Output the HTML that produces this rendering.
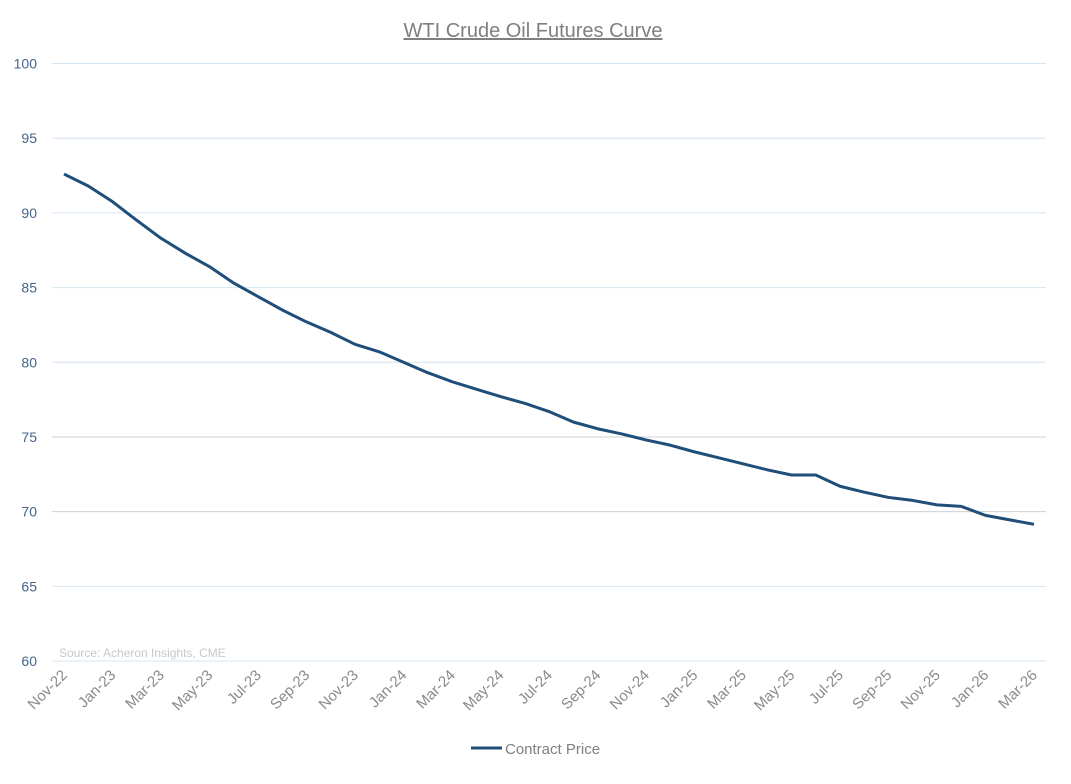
<!DOCTYPE html>
<html><head><meta charset="utf-8"><style>
body{margin:0;background:#fff;font-family:"Liberation Sans",sans-serif}
svg text{font-family:"Liberation Sans",sans-serif}
</style></head><body>
<svg id="chart" width="1071" height="779" viewBox="0 0 1071 779">
<text x="533" y="37" text-anchor="middle" font-size="20" fill="#7f7f7f" text-decoration="underline">WTI Crude Oil Futures Curve</text>
<g id="grid"></g><g id="yl"></g><g id="xl"></g>
<text x="59" y="657" font-size="12" fill="#c8c8c8">Source: Acheron Insights, CME</text>
<g>
<line x1="471" y1="748" x2="502" y2="748" stroke="#1f4e79" stroke-width="3"/>
<text x="505" y="754" font-size="15" fill="#7f7f7f">Contract Price</text>
</g>
</svg>
<script>
const months=["Nov-22","Dec-22","Jan-23","Feb-23","Mar-23","Apr-23","May-23","Jun-23","Jul-23","Aug-23","Sep-23","Oct-23","Nov-23","Dec-23","Jan-24","Feb-24","Mar-24","Apr-24","May-24","Jun-24","Jul-24","Aug-24","Sep-24","Oct-24","Nov-24","Dec-24","Jan-25","Feb-25","Mar-25","Apr-25","May-25","Jun-25","Jul-25","Aug-25","Sep-25","Oct-25","Nov-25","Dec-25","Jan-26","Feb-26","Mar-26"];
const prices=[92.6,91.8,90.75,89.5,88.3,87.3,86.4,85.3,84.4,83.5,82.7,82.0,81.2,80.7,80.0,79.3,78.7,78.2,77.7,77.25,76.7,76.0,75.55,75.2,74.8,74.45,74.0,73.6,73.2,72.8,72.45,72.45,71.7,71.3,70.95,70.75,70.45,70.35,69.75,69.45,69.15];
const yTicks=[60,65,70,75,80,85,90,95,100];
const NS="http://www.w3.org/2000/svg";
const x=i=>64+i*(1034-64)/(months.length-1);
const y=v=>661-(v-60)*(661-63.5)/40;
const svg=document.getElementById('chart');
const grid=document.getElementById('grid'),yl=document.getElementById('yl'),xl=document.getElementById('xl');
yTicks.forEach(t=>{
 const l=document.createElementNS(NS,'line');
 
 
 l.setAttribute('x1',52);l.setAttribute('x2',1046);l.setAttribute('y1',y(t));l.setAttribute('y2',y(t));
 l.setAttribute('stroke',t===70||t===75?'#d0d0d0':'#d5e4f1');l.setAttribute('stroke-width',1);
 grid.appendChild(l);
 const tx=document.createElementNS(NS,'text');
 
 
 tx.setAttribute('x',37);tx.setAttribute('y',y(t)+5);tx.setAttribute('text-anchor','end');
 tx.setAttribute('font-size','14');tx.setAttribute('fill','#44648a');tx.textContent=t;
 yl.appendChild(tx);
});
months.forEach((m,i)=>{
 if(i%2) return;
 const tx=document.createElementNS(NS,'text');
 
 
 const px=x(i)+4,py=676;
 tx.setAttribute('x',px);tx.setAttribute('y',py);tx.setAttribute('text-anchor','end');
 tx.setAttribute('transform',`rotate(-45 ${px} ${py})`);
 tx.setAttribute('font-size','15');tx.setAttribute('fill','#8a8a8a');tx.textContent=m;
 xl.appendChild(tx);
});
const p=document.createElementNS(NS,'polyline');


p.setAttribute('points',prices.map((v,i)=>x(i)+','+y(v)).join(' '));
p.setAttribute('fill','none');p.setAttribute('stroke','#1f4e79');p.setAttribute('stroke-width','3');
p.setAttribute('stroke-linejoin','round');
svg.appendChild(p);
</script>
</body></html>
